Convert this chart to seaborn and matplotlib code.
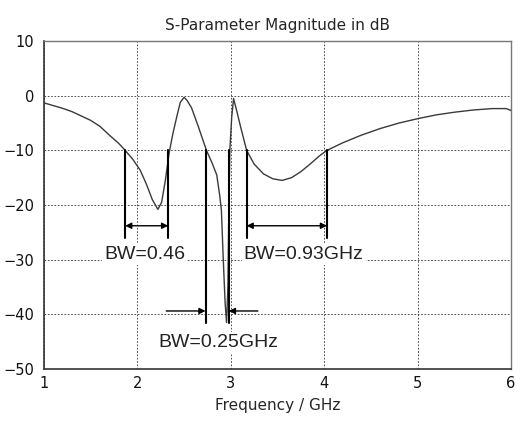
import matplotlib
matplotlib.use("Agg")
import matplotlib.pyplot as plt
import seaborn as sns
import pandas as pd

# S11 curve (GHz, dB)
freq = [1.0, 1.1, 1.2, 1.3, 1.4, 1.5, 1.6, 1.7, 1.8, 1.87, 1.95, 2.03, 2.1, 2.16,
        2.22, 2.26, 2.30, 2.34, 2.38, 2.42, 2.46, 2.50, 2.53, 2.58, 2.65, 2.74,
        2.80, 2.85, 2.88, 2.90, 2.92, 2.94, 2.955, 2.97, 2.98, 2.99, 3.01, 3.03,
        3.06, 3.11, 3.17, 3.25, 3.35, 3.45, 3.55, 3.65, 3.75, 3.85, 3.95, 4.03,
        4.2, 4.4, 4.6, 4.8, 5.0, 5.2, 5.4, 5.6, 5.8, 5.95, 6.0]
s_db = [-1.3, -1.8, -2.3, -2.9, -3.7, -4.5, -5.6, -7.2, -8.7, -10.0, -11.6, -13.6,
        -16.3, -19.0, -20.8, -19.5, -15.5, -10.5, -7.0, -4.0, -1.2, -0.3, -0.8,
        -2.2, -5.5, -10.0, -12.3, -14.5, -18.0, -21.0, -30.0, -38.0, -41.5, -35.0,
        -20.0, -10.0, -4.0, -0.5, -2.5, -6.0, -10.0, -12.5, -14.3, -15.2, -15.5,
        -15.0, -13.9, -12.5, -11.0, -10.0, -8.6, -7.2, -6.0, -5.0, -4.2, -3.5,
        -3.0, -2.6, -2.35, -2.35, -2.7]

# bandwidth markers (-10 dB edges)
bw_left = [1.87, 3.17, 2.73]
bw_right = [2.33, 4.03, 2.98]
bw_labels = ["BW=0.46", "BW=0.93GHz", "BW=0.25GHz"]

xticks = [1, 2, 3, 4, 5, 6]
yticks = [10, 0, -10, -20, -30, -40, -50]

sns.set_style("white")
plt.rcParams["font.family"] = ["DejaVu Sans"]

fig = plt.figure(figsize=(5.29, 4.24), dpi=100)
ax = fig.add_axes([0.083, 0.130, 0.883, 0.773])

df = pd.DataFrame({"f": freq, "db": s_db})
sns.lineplot(data=df, x="f", y="db", ax=ax, color="#3a3a3a", linewidth=1.0, zorder=3)

ax.set_xlim(1, 6)
ax.set_ylim(-50, 10)
ax.set_xticks(xticks)
ax.set_yticks(yticks)
ax.tick_params(length=0, labelsize=10.5, colors="#111111")
ax.tick_params(axis="y", pad=7)
ax.tick_params(axis="x", pad=5)
ax.grid(True, color="#333333", linestyle=(0, (2, 2)), linewidth=0.6)
for side in ["left", "bottom"]:
    ax.spines[side].set_color("#333333")
    ax.spines[side].set_linewidth(1.2)
for side in ["top", "right"]:
    ax.spines[side].set_color("#777777")
    ax.spines[side].set_linewidth(1.0)

ax.set_title("S-Parameter Magnitude in dB", fontsize=11, pad=8)
ax.set_xlabel("Frequency / GHz", fontsize=11, labelpad=5)
ax.set_ylabel("")

txt = dict(fontsize=14, family="Liberation Sans", color="#222222", ha="center",
           va="center", zorder=4, bbox=dict(facecolor="white", edgecolor="none", pad=1.5))
head = dict(color="black", lw=1.0, mutation_scale=9, shrinkA=0, shrinkB=0)

# BW=0.46 and BW=0.93: lines below -10 dB with double arrows
for i, tx in [(0, 2.08), (1, 3.78)]:
    for x in (bw_left[i], bw_right[i]):
        ax.plot([x, x], [-10, -26], color="black", lw=1.5, zorder=4)
    ax.annotate("", xy=(bw_right[i], -23.8), xytext=(bw_left[i], -23.8),
                arrowprops=dict(arrowstyle="<|-|>", **head), zorder=4)
    ax.text(tx, -29, bw_labels[i], **txt)

# BW=0.25: arrows pointing inward
for x in (bw_left[2], bw_right[2]):
    ax.plot([x, x], [-10, -41.6], color="black", lw=1.5, zorder=4)
ax.annotate("", xy=(bw_left[2], -39.4), xytext=(2.31, -39.4),
            arrowprops=dict(arrowstyle="-|>", **head), zorder=4)
ax.annotate("", xy=(bw_right[2], -39.4), xytext=(3.29, -39.4),
            arrowprops=dict(arrowstyle="-|>", **head), zorder=4)
ax.text(2.87, -45.2, bw_labels[2], **txt)

fig.savefig("out.png", dpi=100)
